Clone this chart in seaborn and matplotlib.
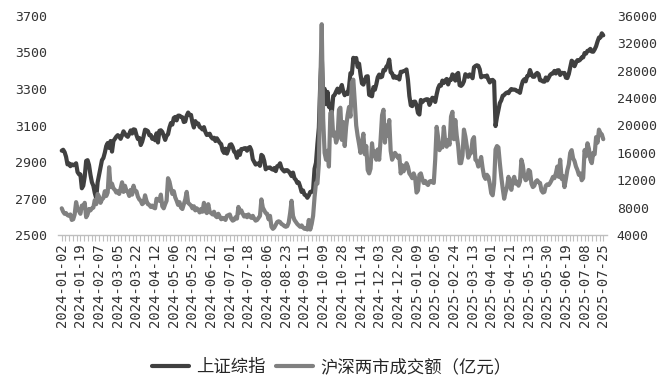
import numpy as np
import pandas as pd
import matplotlib.pyplot as plt
import seaborn as sns

# x labels, one every 13 trading days
tick_dates = ['2024-01-02', '2024-01-19', '2024-02-07', '2024-03-05', '2024-03-22',
              '2024-04-12', '2024-05-06', '2024-05-23', '2024-06-12', '2024-07-01',
              '2024-07-18', '2024-08-06', '2024-08-23', '2024-09-11', '2024-10-09',
              '2024-10-28', '2024-11-14', '2024-12-03', '2024-12-20', '2025-01-09',
              '2025-02-05', '2025-02-24', '2025-03-13', '2025-04-01', '2025-04-21',
              '2025-05-13', '2025-05-30', '2025-06-19', '2025-07-08', '2025-07-25']

# 上证综指 daily close (one row per month)
sse_close = [
    2962, 2967, 2954, 2929, 2887, 2893, 2877, 2887, 2882, 2886, 2893, 2845, 2833, 2832, 2756, 2770, 2820, 2906, 2910, 2883, 2830, 2789,
    2770, 2730, 2702, 2789, 2829, 2866, 2910, 2922, 2951, 2988, 3004, 2977, 3015, 2957, 3015,
    3027, 3039, 3047, 3040, 3027, 3046, 3068, 3055, 3044, 3038, 3054, 3073, 3056, 3079, 3077, 3048, 3026, 3032, 2993, 3011, 3041,
    3077, 3074, 3069, 3047, 3048, 3027, 3034, 3019, 3057, 3007, 3071, 3074, 3065, 3044, 3021, 3044, 3052, 3089, 3113, 3105,
    3141, 3147, 3128, 3154, 3154, 3148, 3145, 3119, 3122, 3154, 3171, 3157, 3158, 3116, 3089, 3124, 3109, 3111, 3092, 3087,
    3078, 3091, 3065, 3048, 3051, 3055, 3037, 3028, 3033, 3015, 3030, 3018, 3005, 2998, 2963, 2950, 2973, 2946, 2967,
    2994, 2997, 2982, 2957, 2950, 2923, 2959, 2939, 2971, 2971, 2975, 2976, 2962, 2977, 2982, 2964, 2915, 2901, 2886, 2891, 2891, 2879, 2939,
    2932, 2905, 2860, 2868, 2869, 2870, 2862, 2858, 2867, 2850, 2877, 2879, 2893, 2866, 2856, 2848, 2855, 2855, 2848, 2837, 2823, 2842,
    2811, 2802, 2785, 2788, 2765, 2736, 2744, 2721, 2717, 2704, 2717, 2736, 2736, 2748, 2863, 2896, 3000, 3088, 3336,
    3489, 3259, 3301, 3217, 3284, 3202, 3202, 3169, 3261, 3268, 3286, 3302, 3280, 3300, 3322, 3286, 3266, 3280,
    3272, 3310, 3387, 3384, 3471, 3452, 3470, 3421, 3439, 3380, 3331, 3324, 3347, 3368, 3370, 3268, 3264, 3260, 3310, 3296, 3326,
    3364, 3379, 3364, 3368, 3404, 3402, 3422, 3432, 3461, 3392, 3386, 3362, 3370, 3360, 3368, 3352, 3394, 3394, 3398, 3400, 3407, 3352,
    3262, 3211, 3206, 3230, 3231, 3211, 3169, 3160, 3240, 3228, 3237, 3241, 3244, 3243, 3213, 3231, 3252, 3250,
    3229, 3270, 3304, 3322, 3318, 3346, 3333, 3347, 3355, 3325, 3351, 3350, 3380, 3373, 3346, 3380, 3388, 3321,
    3317, 3325, 3342, 3381, 3373, 3367, 3380, 3372, 3359, 3419, 3426, 3430, 3427, 3408, 3364, 3370, 3370, 3368, 3374, 3352, 3336,
    3348, 3350, 3342, 3097, 3146, 3186, 3223, 3238, 3263, 3267, 3276, 3281, 3277, 3291, 3300, 3296, 3297, 3295, 3288, 3287, 3279,
    3316, 3343, 3353, 3342, 3370, 3374, 3404, 3381, 3367, 3367, 3381, 3388, 3381, 3348, 3347, 3341, 3340, 3363, 3347,
    3362, 3377, 3384, 3385, 3399, 3385, 3402, 3403, 3377, 3389, 3387, 3388, 3362, 3360, 3382, 3420, 3455, 3448, 3425, 3444,
    3458, 3455, 3461, 3473, 3473, 3497, 3494, 3509, 3510, 3520, 3505, 3504, 3517, 3534, 3560, 3582, 3582, 3605, 3594,
]

# 沪深两市成交额 (亿元), same days
turnover = [
    7900, 7400, 7100, 7200, 6900, 6800, 7000, 6200, 6300, 7000, 8800, 7800, 7500, 7100, 8300, 8100, 8700, 6600, 7000, 7800, 7600, 7900,
    8000, 9100, 8500, 10000, 9600, 8700, 9200, 9400, 10400, 9700, 10200, 13900, 11000, 11500, 10800,
    10600, 10200, 10400, 10000, 10800, 11700, 10300, 11200, 10500, 10300, 9700, 10600, 9900, 11200, 10400, 10400, 9600, 9200, 9000, 8500, 8700,
    9800, 9000, 8500, 8400, 8100, 8300, 8000, 7900, 9300, 9200, 9000, 9900, 8200, 7900, 8500, 9000, 12300, 11800, 10800, 10000,
    10400, 9500, 9000, 8400, 8800, 8000, 7800, 8500, 9200, 10300, 8700, 8500, 8300, 7900, 8200, 7600, 7900, 7700, 7300, 7800,
    7400, 8700, 7500, 7200, 8500, 7400, 7200, 7000, 7400, 6800, 6600, 7100, 6700, 6300, 6500, 6400, 6200, 6800, 6900,
    7000, 6400, 6100, 6200, 6600, 6400, 8100, 7300, 7600, 7100, 6700, 6900, 6600, 7000, 6700, 6500, 6800, 6400, 6100, 6200, 6500, 6800, 9200,
    8000, 7600, 7200, 7100, 6300, 6800, 5200, 4900, 5100, 5500, 5900, 6000, 5900, 5600, 5500, 5300, 5200, 5300, 5800, 7200, 9000, 6800,
    6200, 5900, 5600, 5400, 5200, 5400, 5100, 4900, 5000, 4800, 6200, 4800, 5600, 6800, 9500, 11600, 11500, 14400, 25900,
    34800, 21000, 16000, 15000, 16300, 14000, 21800, 22000, 18500, 19000, 17500, 18200, 22300, 22600, 17900, 20500, 17000, 19800,
    21500, 22700, 21300, 26300, 26700, 23500, 20000, 18500, 17300, 16000, 17500, 18800, 15800, 17000, 13500, 13000, 13700, 17400, 15500, 16200, 15000,
    16500, 15000, 18000, 21500, 22300, 17500, 20000, 18500, 20800, 16300, 15000, 15500, 16000, 15700, 15300, 15600, 13000, 14200, 13300, 13800, 14500, 14000,
    13000, 12700, 12300, 13000, 12400, 10200, 10500, 12800, 13000, 12200, 11600, 11900, 11500, 11300, 11800, 11900, 11700, 11600,
    15000, 19800, 18300, 16400, 17200, 16800, 19800, 17500, 16900, 17900, 17200, 21300, 22000, 18000, 20800, 18500, 17000, 14500,
    14500, 15600, 19400, 18400, 17000, 15300, 15800, 16000, 17900, 18300, 15000, 14800, 14000, 14600, 15400, 13800, 12600, 12200, 12800, 12500, 11500,
    10100, 9800, 11500, 16500, 17000, 16800, 14500, 12500, 10800, 9300, 10300, 11000, 12500, 11500, 10600, 12000, 12500, 11500, 11800, 11200, 11800,
    15000, 14200, 12500, 12000, 12200, 13500, 13300, 11500, 11000, 11200, 11800, 12000, 11700, 11600, 10500, 10200, 10300, 11200, 11400,
    11300, 11600, 12000, 12500, 12300, 13000, 14000, 12500, 15000, 12200, 12600, 11000, 12200, 13500, 14300, 16000, 16400, 15200, 14800, 14000,
    13500, 12800, 13000, 12000, 12300, 16400, 15500, 17400, 16600, 15000, 14500, 16000, 15800, 18300, 17500, 19400, 18900, 18700, 18000,
]

sns.set_style("white")
plt.rcParams['font.family'] = ['DejaVu Sans Mono', 'Noto Sans CJK SC']

df = pd.DataFrame({'day': np.arange(len(sse_close)), 'sse': sse_close, 'amount': turnover})

fig = plt.figure(figsize=(6.69, 3.86), dpi=100)
ax = fig.add_axes([58/669, 151/386, 549/669, 219/386])
ax2 = ax.twinx()

sns.lineplot(data=df, x='day', y='sse', ax=ax, color='#404040', linewidth=3)
sns.lineplot(data=df, x='day', y='amount', ax=ax2, color='#808080', linewidth=3)

ax.set_xlim(-2.6, len(sse_close) + 1.6)
ax.set_ylim(2500, 3700)
ax.set_yticks(range(2500, 3701, 200))
ax2.set_ylim(4000, 36000)
ax2.set_yticks(range(4000, 36001, 4000))

ax.set_xticks(np.arange(0, len(sse_close), 13))
ax.set_xticklabels(tick_dates, rotation=90, fontsize=10, color='#333333')
ax.set_xticks(np.arange(0, len(sse_close), 2.6), minor=True)
ax.tick_params(axis='x', which='both', direction='out', length=4, width=0.8,
               color='#bfbfbf', pad=2, bottom=True)
ax.tick_params(axis='y', length=0, pad=8, labelsize=9.5, labelcolor='#333333')
ax2.tick_params(axis='y', length=0, pad=7, labelsize=9.5, labelcolor='#333333')

for a in (ax, ax2):
    a.set_xlabel('')
    a.set_ylabel('')
    for s in ('top', 'left', 'right'):
        a.spines[s].set_visible(False)
ax2.spines['bottom'].set_visible(False)
ax.spines['bottom'].set_color('#bfbfbf')
ax.spines['bottom'].set_linewidth(1)

handles = [ax.lines[0], ax2.lines[0]]
labels = ['上证综指', '沪深两市成交额（亿元）']
fig.legend(handles, labels, loc='center', bbox_to_anchor=(332/669, 1 - 367/386),
           ncol=2, frameon=False, handlelength=2.1, handletextpad=0.45,
           columnspacing=0.6, prop={'family': 'Noto Sans CJK SC', 'size': 12.5})

fig.savefig('out.png', dpi=100)
